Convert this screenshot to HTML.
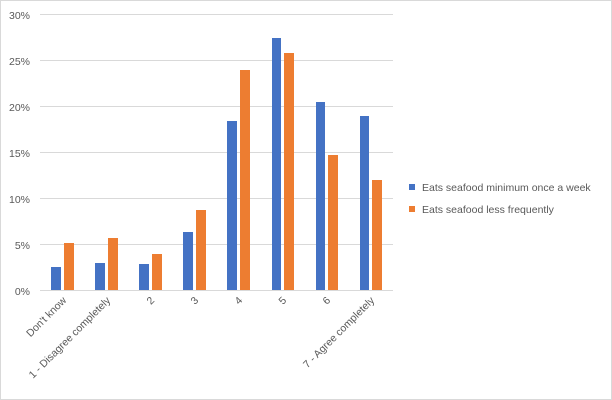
<!DOCTYPE html>
<html><head><meta charset="utf-8"><style>
html,body{margin:0;padding:0;background:#fff}
svg{display:block;font-family:"Liberation Sans",Arial,sans-serif}
</style></head><body>
<svg width="612" height="400" viewBox="0 0 612 400">
<rect x="0.5" y="0.5" width="611" height="399" fill="#fff" stroke="#d9d9d9"/>
<g stroke="#d9d9d9" stroke-width="1">
<line x1="40" x2="393" y1="14.5" y2="14.5"/>
<line x1="40" x2="393" y1="60.5" y2="60.5"/>
<line x1="40" x2="393" y1="106.5" y2="106.5"/>
<line x1="40" x2="393" y1="152.5" y2="152.5"/>
<line x1="40" x2="393" y1="198.5" y2="198.5"/>
<line x1="40" x2="393" y1="244.5" y2="244.5"/>
<line x1="40" x2="393" y1="290.5" y2="290.5"/>
</g>
<g font-size="10.5" fill="#595959" text-anchor="end">
<text x="30" y="19">30%</text>
<text x="30" y="65">25%</text>
<text x="30" y="111">20%</text>
<text x="30" y="157">15%</text>
<text x="30" y="203">10%</text>
<text x="30" y="249">5%</text>
<text x="30" y="295">0%</text>
</g>
<g fill="#4472c4">
<rect x="51" y="267" width="10" height="23"/>
<rect x="95" y="263" width="10" height="27"/>
<rect x="139" y="264" width="10" height="26"/>
<rect x="183" y="232" width="10" height="58"/>
<rect x="227" y="121" width="10" height="169"/>
<rect x="272" y="38" width="9" height="252"/>
<rect x="316" y="102" width="9" height="188"/>
<rect x="360" y="116" width="9" height="174"/>
</g>
<g fill="#ed7d31">
<rect x="64" y="243" width="10" height="47"/>
<rect x="108" y="238" width="10" height="52"/>
<rect x="152" y="254" width="10" height="36"/>
<rect x="196" y="210" width="10" height="80"/>
<rect x="240" y="70" width="10" height="220"/>
<rect x="284" y="53" width="10" height="237"/>
<rect x="328" y="155" width="10" height="135"/>
<rect x="372" y="180" width="10" height="110"/>
</g>
<g font-size="10.5" fill="#595959" text-anchor="end">
<text transform="translate(67,301) rotate(-45)">Don't know</text>
<text transform="translate(111,301) rotate(-45)">1 - Disagree completely</text>
<text transform="translate(155,301) rotate(-45)">2</text>
<text transform="translate(199,301) rotate(-45)">3</text>
<text transform="translate(243,301) rotate(-45)">4</text>
<text transform="translate(287,301) rotate(-45)">5</text>
<text transform="translate(331,301) rotate(-45)">6</text>
<text transform="translate(375,301) rotate(-45)">7 - Agree completely</text>
</g>
<rect x="409" y="184" width="6" height="6" fill="#4472c4"/>
<rect x="409" y="206" width="6" height="6" fill="#ed7d31"/>
<g font-size="10.5" fill="#595959">
<text x="422" y="191">Eats seafood minimum once a week</text>
<text x="422" y="213">Eats seafood less frequently</text>
</g>
</svg>
</body></html>
